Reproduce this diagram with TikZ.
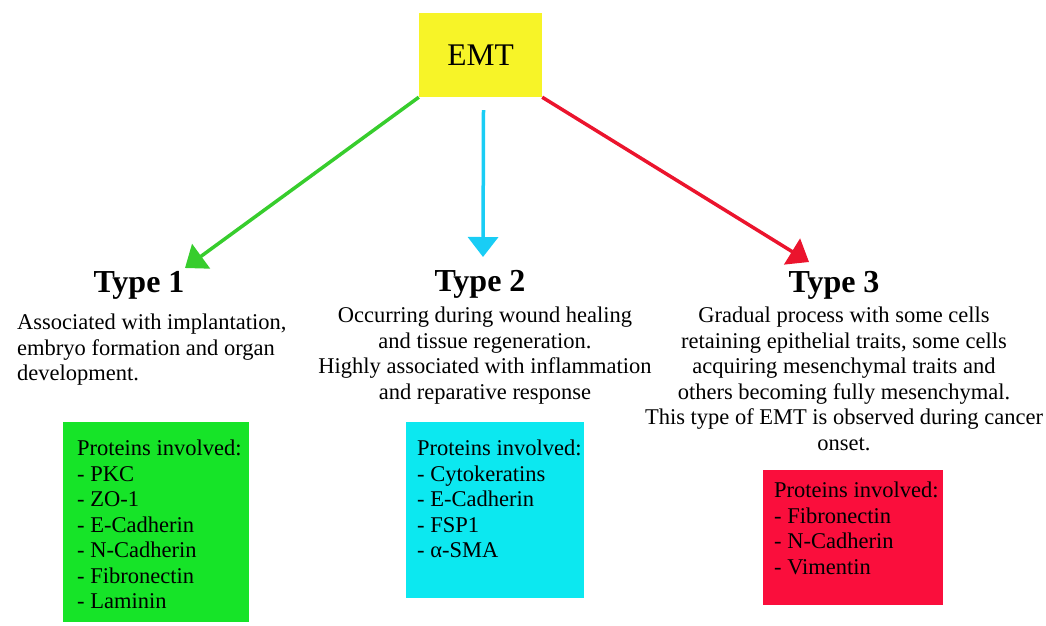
\documentclass[tikz,border=0pt]{standalone}
\usepackage{fontspec}
\setmainfont{Liberation Serif}
\usetikzlibrary{arrows.meta, positioning, calc}

\definecolor{emtyellow}{RGB}{247,244,40}
\definecolor{boxgreen}{RGB}{22,228,40}
\definecolor{boxcyan}{RGB}{12,232,240}
\definecolor{boxred}{RGB}{250,14,60}
\definecolor{linegreen}{RGB}{55,205,45}
\definecolor{linecyan}{RGB}{25,205,245}
\definecolor{linered}{RGB}{235,20,45}

\begin{document}
\begin{tikzpicture}[x=1pt, y=-1pt,
    txt/.style={font=\fontsize{22.5}{25.5}\selectfont, inner sep=0pt},
    title/.style={font=\fontsize{32}{38}\selectfont\bfseries, inner sep=0pt, anchor=base},
    box/.style={anchor=north west, inner sep=0pt},
    arrow/.style={-{Triangle[length=20pt,width=30pt]}, line width=3.5pt}]
    \useasboundingbox (0,0) rectangle (1046,625);

    % top node
    \node[fill=emtyellow, minimum width=123pt, minimum height=84pt, inner sep=0pt,
          font=\fontsize{31.5}{36}\selectfont] (emt) at (480.5,55) {EMT};

    % titles
    \node[title] (type1) at (139,292) {Type 1};
    \node[title] (type2) at (480,291) {Type 2};
    \node[title] (type3) at (834,292) {Type 3};

    % descriptions
    \node[txt, anchor=north west, align=left] (desc1) at (17,314)
        {Associated with implantation,\\embryo formation and organ\\development.};
    \node[txt, anchor=north, align=center] (desc2) at (485,307)
        {Occurring during wound healing\\and tissue regeneration.\\Highly associated with inflammation\\and reparative response};
    \node[txt, anchor=north, align=center] (desc3) at (844,307)
        {Gradual process with some cells\\retaining epithelial traits, some cells\\acquiring mesenchymal traits and\\others becoming fully mesenchymal.\\This type of EMT is observed during cancer\\onset.};

    % protein boxes
    \node[box, fill=boxgreen, minimum width=186pt, minimum height=200pt] (prot1) at (63,422) {};
    \node[box, fill=boxcyan, minimum width=178pt, minimum height=176pt] (prot2) at (406,422) {};
    \node[box, fill=boxred, minimum width=180pt, minimum height=135pt] (prot3) at (763,470) {};

    \node[txt, anchor=north west, align=left] (list1) at ([xshift=14pt,yshift=-18pt]prot1.north west)
        {Proteins involved:\\- PKC\\- ZO-1\\- E-Cadherin\\- N-Cadherin\\- Fibronectin\\- Laminin};
    \node[txt, anchor=north west, align=left] (list2) at ([xshift=11pt,yshift=-18pt]prot2.north west)
        {Proteins involved:\\- Cytokeratins\\- E-Cadherin\\- FSP1\\- α-SMA};
    \node[txt, anchor=north west, align=left] (list3) at ([xshift=11pt,yshift=-12pt]prot3.north west)
        {Proteins involved:\\- Fibronectin\\- N-Cadherin\\- Vimentin};

    % arrows
    \coordinate (tip1) at (185,268);
    \coordinate (tip2) at (483,257);
    \coordinate (tip3) at (809,262);
    \draw[arrow, linegreen] (emt.south west) -- (tip1);
    \draw[arrow, linecyan] ([xshift=3pt,yshift=-13pt]emt.south) -- (tip2);
    \draw[arrow, linered] (emt.south east) -- (tip3);
\end{tikzpicture}
\end{document}
